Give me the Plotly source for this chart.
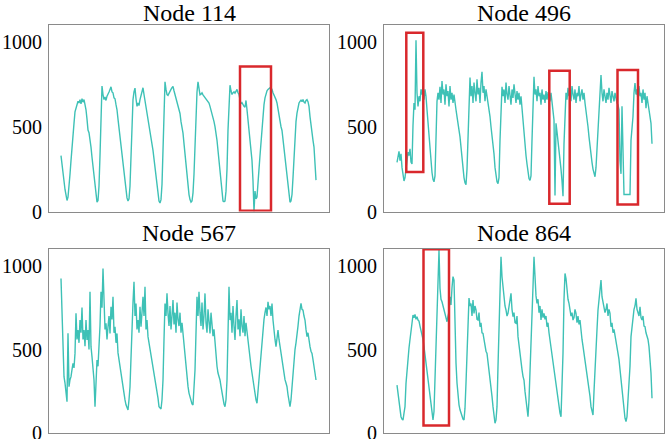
import plotly.graph_objects as go

# ---- data (sample index, value) ----
node114 = [
    330, 290, 240, 180, 130, 85, 65, 85, 140, 220,
    300, 390, 470, 520, 588, 610, 630, 650, 640, 660,
    635, 665, 645, 660, 630, 600, 545, 480, 465, 430,
    380, 320, 260, 195, 140, 90, 55, 65, 150, 330,
    560, 740, 690, 660, 675, 655, 680, 690, 705, 720,
    735, 705, 700, 670, 665, 630, 600, 545, 490, 440,
    400, 340, 265, 205, 155, 110, 80, 62, 75, 150,
    340, 560, 660, 705, 728, 665, 620, 640, 625, 660,
    680, 700, 730, 690, 655, 620, 585, 540, 500, 465,
    425, 400, 360, 310, 262, 200, 150, 100, 62, 50,
    70, 160, 420, 640, 765, 720, 690, 685, 700, 706,
    720, 730, 738, 712, 690, 660, 645, 620, 600, 578,
    530, 500, 462, 400, 340, 265, 200, 150, 100, 70,
    55, 62, 110, 220, 420, 640, 705, 765, 720, 688,
    692, 700, 688, 680, 672, 665, 660, 655, 640, 620,
    600, 580, 560, 530, 500, 470, 420, 360, 290, 220,
    150, 95, 62, 58, 62, 120, 250, 480, 650, 745,
    712, 690, 700, 706, 698, 708, 720, 700, 690, 660,
    635, 642, 628, 620, 615, 655, 600, 540, 500, 440,
    380, 300, 180, 0, 120, 75, 85, 150, 250, 330,
    420, 500, 580, 630, 670, 700, 712, 720, 725, 730,
    728, 720, 700, 686, 680, 660, 640, 598, 562, 530,
    500, 478, 420, 370, 335, 262, 200, 144, 82, 55,
    62, 100, 200, 300, 460, 530, 580, 617, 640, 650,
    657, 648, 660, 645, 640, 655, 660, 648, 620, 560,
    500, 462, 420, 380, 300, 185,
]

node496 = [
    290, 330, 355, 300, 340, 260, 220, 180, 200, 260,
    300, 350, 330, 370, 292, 280, 509, 640, 600, 1010,
    700, 620, 680, 650, 720, 690, 740, 660, 720, 680,
    600, 520, 440, 360, 290, 230, 190, 175, 210, 420,
    650, 700, 660, 735, 640, 770, 690, 720, 630, 750,
    680, 710, 620, 740, 660, 700, 640, 690, 620, 600,
    560, 530, 480, 440, 380, 300, 250, 200, 170, 158,
    250, 480, 680, 790, 680, 740, 640, 760, 700, 650,
    780, 690, 730, 640, 760, 824, 700, 740, 650, 720,
    680, 640, 620, 560, 500, 450, 400, 340, 260, 210,
    175, 165, 200, 420, 620, 735, 680, 720, 640, 760,
    690, 660, 740, 700, 630, 720, 670, 750, 690, 640,
    710, 660, 700, 630, 680, 600, 520, 450, 390, 330,
    280, 230, 195, 183, 210, 420, 650, 795, 690, 720,
    650, 740, 680, 700, 630, 720, 660, 690, 640, 710,
    660, 700, 700, 650, 700, 640, 600, 540, 95, 520,
    470, 420, 360, 300, 250, 180, 90, 400, 640, 700,
    660, 730, 680, 720, 650, 740, 690, 660, 720, 640,
    700, 680, 740, 650, 690, 720, 660, 700, 640, 600,
    560, 500, 440, 380, 330, 290, 250, 220, 205, 260,
    380, 500, 600, 700, 805, 700, 650, 720, 680, 640,
    700, 660, 730, 690, 640, 710, 680, 650, 700, 660,
    640, 630, 600, 300, 222, 620, 300, 100, 100, 100,
    100, 100, 100, 100, 420, 480, 560, 700, 757, 690,
    720, 650, 740, 680, 700, 640, 720, 660, 700, 610,
    680, 640, 600, 560, 520, 400,
]

node567 = [
    924, 676, 477, 338, 300, 239, 189, 597, 278, 320,
    338, 380, 417, 390, 477, 716, 560, 616, 540, 676,
    600, 751, 560, 616, 520, 676, 557, 616, 500, 845,
    517, 457, 380, 318, 159, 300, 437, 400, 517, 640,
    845, 750, 984, 716, 620, 656, 560, 636, 700, 596,
    755, 680, 815, 600, 636, 540, 596, 480, 437, 400,
    378, 320, 278, 240, 199, 170, 150, 139, 200, 278,
    450, 676, 780, 904, 700, 775, 620, 676, 600, 755,
    636, 720, 815, 700, 875, 620, 676, 577, 540, 500,
    477, 440, 400, 378, 330, 290, 258, 210, 159, 150,
    145, 200, 318, 560, 775, 700, 835, 716, 640, 760,
    620, 700, 795, 650, 720, 600, 780, 680, 640, 720,
    600, 660, 596, 520, 437, 400, 318, 280, 240, 219,
    190, 175, 169, 250, 378, 600, 815, 700, 845, 720,
    640, 780, 620, 700, 835, 660, 600, 740, 680, 596,
    720, 640, 580, 620, 540, 437, 400, 360, 340, 318,
    280, 240, 199, 175, 159, 200, 318, 600, 875, 676,
    720, 600, 760, 640, 557, 700, 795, 620, 680, 580,
    740, 640, 600, 700, 580, 660, 600, 557, 480, 437,
    400, 360, 318, 270, 230, 199, 179, 250, 320, 398,
    480, 560, 636, 680, 720, 751, 700, 785, 740, 760,
    700, 775, 676, 600, 560, 517, 580, 616, 560, 517,
    470, 437, 400, 358, 320, 300, 278, 230, 179, 159,
    200, 280, 378, 440, 500, 540, 577, 640, 700, 735,
    775, 740, 735, 700, 676, 620, 577, 600, 540, 517,
    490, 477, 440, 378, 360, 318,
]

node864 = [
    288, 240, 199, 150, 99, 85, 79, 120, 159, 298,
    389, 480, 509, 560, 620, 676, 706, 690, 710, 680,
    696, 676, 670, 640, 616, 587, 560, 517, 468, 400,
    338, 300, 271, 200, 159, 92, 80, 130, 330, 520,
    726, 885, 1094, 865, 800, 785, 760, 740, 726, 690,
    666, 700, 726, 815, 766, 870, 935, 915, 560, 420,
    300, 220, 170, 140, 119, 100, 85, 79, 150, 300,
    520, 700, 807, 760, 775, 700, 795, 716, 760, 736,
    680, 676, 720, 636, 660, 600, 596, 560, 517, 490,
    477, 430, 378, 330, 278, 220, 159, 100, 60, 80,
    159, 400, 676, 900, 1054, 934, 860, 795, 760, 736,
    700, 716, 760, 800, 835, 740, 696, 720, 660, 656,
    700, 577, 520, 480, 437, 380, 340, 318, 250, 200,
    159, 99, 200, 350, 477, 700, 875, 1054, 895, 820,
    775, 800, 720, 760, 676, 740, 690, 716, 680, 700,
    636, 660, 600, 557, 520, 480, 437, 390, 340, 278,
    240, 200, 159, 120, 99, 250, 477, 800, 954, 924,
    855, 800, 775, 740, 700, 720, 676, 690, 740, 716,
    660, 700, 650, 676, 596, 560, 520, 477, 440, 400,
    360, 318, 280, 220, 159, 130, 109, 250, 400, 477,
    620, 736, 800, 860, 915, 815, 780, 755, 720, 740,
    775, 700, 740, 716, 636, 660, 600, 620, 577, 540,
    500, 477, 440, 378, 320, 239, 180, 119, 90, 70,
    100, 200, 278, 400, 577, 640, 696, 740, 760, 805,
    740, 716, 700, 755, 690, 676, 700, 640, 636, 600,
    577, 560, 517, 440, 358, 209,
]

titles = ["Node 114", "Node 496", "Node 567", "Node 864"]
series = [node114, node496, node567, node864]

# highlighted anomaly windows: (index start, index end, value low, value high)
boxes_114 = [(179, 210, 5, 855)]
boxes_496 = [(9.3, 26.3, 233, 1055), (152.3, 172.7, 45, 830), (220.5, 241, 41, 834)]
boxes_567 = []
boxes_864 = [(26.5, 52, 47, 1098)]
boxes = [boxes_114, boxes_496, boxes_567, boxes_864]

y_ticks = [0, 500, 1000]

# ---- layout geometry ----
W, H = 669, 439
xdom = [[49 / W, 329 / W], [384 / W, 664 / W], [49 / W, 329 / W], [384 / W, 664 / W]]
ydom = [[1 - 211.5 / H, 1 - 25 / H], [1 - 211.5 / H, 1 - 25 / H],
        [1 - 433.3 / H, 1 - 249 / H], [1 - 433.3 / H, 1 - 249 / H]]
xr = [[-12, 268], [-13, 267], [-12, 268], [-13, 267]]
title_y = [1 - 12.5 / H, 1 - 12.5 / H, 1 - 232.5 / H, 1 - 232.5 / H]

LINE = "#3EC1B6"
RED = "#D9282C"
FONT = "Liberation Serif, Times New Roman, serif"

fig = go.Figure()
layout = dict(
    width=W, height=H, margin=dict(l=0, r=0, t=0, b=0, autoexpand=False),
    paper_bgcolor="white", plot_bgcolor="white", showlegend=False,
    font=dict(family=FONT, size=20, color="black"),
)
shapes, annotations = [], []
for k in range(4):
    n = k + 1
    sfx = "" if n == 1 else str(n)
    fig.add_trace(go.Scatter(
        x=list(range(len(series[k]))), y=series[k], mode="lines",
        line=dict(color=LINE, width=1.4), xaxis="x" + sfx, yaxis="y" + sfx,
        hoverinfo="skip",
    ))
    layout["xaxis" + sfx] = dict(
        domain=xdom[k], range=xr[k], anchor="y" + sfx, automargin=False,
        showticklabels=False, ticks="", showgrid=False, zeroline=False,
        showline=True, mirror=True, linecolor="#8a8a8a", linewidth=1,
    )
    layout["yaxis" + sfx] = dict(
        domain=ydom[k], range=[0, 1100], anchor="x" + sfx, automargin=False,
        tickvals=y_ticks, ticktext=[str(v) for v in y_ticks],
        ticks="", showgrid=False, zeroline=False, ticklabelstandoff=2,
        ticklabeloverflow="allow",
        showline=True, mirror=True, linecolor="#8a8a8a", linewidth=1,
        tickfont=dict(family=FONT, size=20, color="black"),
    )
    for (x0, x1, y0, y1) in boxes[k]:
        shapes.append(dict(
            type="rect", xref="x" + sfx, yref="y" + sfx,
            x0=x0, x1=x1, y0=y0, y1=y1,
            line=dict(color=RED, width=2.5), fillcolor="rgba(0,0,0,0)",
        ))
    annotations.append(dict(
        text=titles[k], xref="paper", yref="paper",
        x=(xdom[k][0] + xdom[k][1]) / 2, y=title_y[k],
        xanchor="center", yanchor="middle", showarrow=False,
        font=dict(family=FONT, size=24, color="black"),
    ))
layout["shapes"] = shapes
layout["annotations"] = annotations
fig.update_layout(**layout)
fig.write_html(
    "out.html",
    config={"displayModeBar": False, "staticPlot": True},
    post_script="document.body.style.margin='0px';document.body.style.overflow='hidden';",
)
